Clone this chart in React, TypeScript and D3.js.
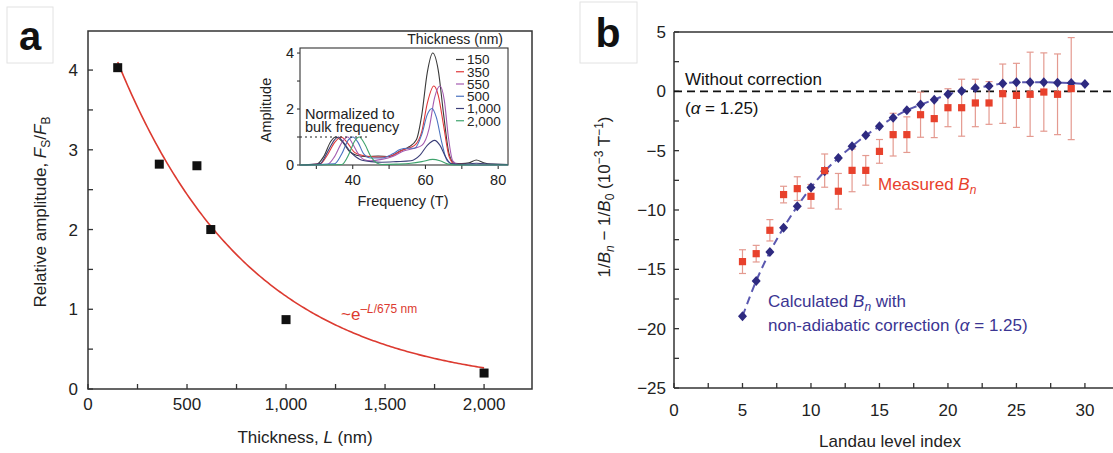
import React from "react";
import * as d3 from "d3";

// ---------- Panel a data ----------
const thickness = [150, 360, 550, 620, 1000, 2000];
const relAmp = [4.03, 2.82, 2.8, 2.0, 0.87, 0.2];
const fitAmp = 5.12;
const fitDecay = 675;
const fitRange = [150, 2000];
const aXTicks = [0, 250, 500, 750, 1000, 1250, 1500, 1750, 2000];
const aXLabels = [0, 500, 1000, 1500, 2000];
const aYTicks = [0, 0.5, 1, 1.5, 2, 2.5, 3, 3.5, 4];
const aYLabels = [0, 1, 2, 3, 4];

// ---------- Inset data (frequency T, amplitude) ----------
const insetLabels = ["150", "350", "550", "500", "1,000", "2,000"];
const insetColors = ["#3a3a3a", "#e0383a", "#a45bb0", "#4a72c0", "#3c3f78", "#3fa36d"];
const spec150 = [[25.5,0],[30,0.02],[32,0.3],[34,0.85],[35.3,1.0],[37,0.85],[39,0.5],[41,0.35],[44,0.3],[47,0.32],[50,0.3],[53,0.5],[55.5,0.65],[57.5,0.9],[59,1.8],[60.5,3.3],[62,4.0],[63.5,3.4],[65,1.8],[66.5,0.4],[68,0.06],[70,0.05],[72,0.08],[74,0.18],[76,0.08],[78,0.03],[82.7,0.02]];
const spec350 = [[25.5,0],[31,0.04],[33,0.35],[35,0.8],[36.8,1.0],[38.5,0.8],[40.5,0.45],[42.5,0.35],[45,0.3],[48,0.28],[51,0.35],[54,0.55],[57,0.7],[59,1.2],[60.5,2.2],[62.3,2.82],[63.5,2.5],[65,1.4],[66.5,0.3],[68,0.03],[72,0.02],[82.7,0]];
const spec550 = [[25.5,0],[33,0.02],[35,0.3],[37,0.8],[38.6,1.0],[40,0.75],[41.5,0.4],[43,0.2],[45,0.15],[48,0.2],[51,0.3],[54,0.5],[57,0.6],[59,0.7],[61,1.3],[62.5,2.4],[64,2.82],[65.2,2.3],[66.3,1.0],[67.5,0.15],[69,0.02],[82.7,0]];
const spec500 = [[25.5,0],[35,0.04],[37,0.4],[38.8,0.9],[40,1.0],[41.5,0.8],[43,0.4],[45,0.25],[48,0.25],[51,0.4],[53,0.55],[55,0.6],[57,0.6],[59,1.1],[60.5,1.8],[61.8,2.02],[63,1.7],[64.5,0.8],[66,0.15],[68,0.02],[82.7,0]];
const spec1000 = [[25.5,0],[31,0.05],[33,0.45],[35,0.9],[36,1.0],[37.5,0.8],[39.5,0.45],[42,0.2],[45,0.12],[48,0.1],[52,0.12],[56,0.15],[58.5,0.35],[60.5,0.7],[62.5,0.88],[64,0.7],[65.5,0.3],[67,0.05],[70,0.03],[74,0.06],[78,0.03],[82.7,0.02]];
const spec2000 = [[25.5,0],[37,0.02],[39,0.4],[40.5,0.85],[41.8,1.0],[43.3,0.75],[45,0.3],[46.5,0.08],[48,0.02],[52,0.03],[56,0.06],[59,0.12],[62,0.2],[64,0.15],[66,0.04],[68,0],[82.7,0]];
const insetSpectra = [spec150, spec350, spec550, spec500, spec1000, spec2000];
const insetXTicks = [30, 40, 50, 60, 70, 80];
const insetXLabels = [40, 60, 80];
const insetYTicks = [0, 1, 2, 3, 4];
const insetYLabels = [0, 2, 4];

// ---------- Panel b data ----------
const calcN = [5,6,7,8,9,10,11,12,13,14,15,16,17,18,19,20,21,22,23,24,25,26,27,28,29,30];
const calcB = [-18.96,-15.98,-13.54,-11.49,-9.69,-8.1,-6.74,-5.62,-4.63,-3.71,-2.95,-2.22,-1.6,-1.12,-0.7,-0.25,0.03,0.28,0.45,0.67,0.76,0.76,0.76,0.73,0.7,0.62];
const measN = [5,6,7,8,9,10,11,12,13,14,15,16,17,18,19,20,21,22,23,24,25,26,27,28,29];
const measB = [-14.35,-13.68,-11.71,-8.7,-8.2,-8.85,-6.68,-8.42,-6.66,-6.66,-5.06,-3.65,-3.65,-1.97,-2.3,-1.38,-1.38,-0.98,-0.98,-0.2,-0.34,-0.25,-0.06,-0.25,0.23];
const measErr = [1.0,0.7,0.9,0.7,1.0,1.0,1.4,1.5,1.8,1.25,1.0,1.8,1.5,1.9,1.6,1.6,2.4,2.0,1.8,2.5,2.7,3.55,3.3,3.4,4.3];
const bXTicks = [0,2.5,5,7.5,10,12.5,15,17.5,20,22.5,25,27.5,30];
const bXLabels = [0,5,10,15,20,25,30];
const bYTicks = [5,2.5,0,-2.5,-5,-7.5,-10,-12.5,-15,-17.5,-20,-22.5,-25];
const bYLabels = [5,0,-5,-10,-15,-20,-25];

const FONT = "'Liberation Sans', Arial, Helvetica, sans-serif";
const AX = "#333";
const RED = "#e8412c";
const NAVY = "#2e2a80";

function minus(v: number) {
  return v < 0 ? "\u2212" + Math.abs(v) : String(v);
}

export default function App() {
  // panel a scales
  const xA = d3.scaleLinear().domain([0, 2242]).range([88, 532]);
  const yA = d3.scaleLinear().domain([0, 4.49]).range([389, 31]);
  const fitL = d3.range(fitRange[0], fitRange[1] + 1, 10);
  const fitLine = d3
    .line<number>()
    .x((l) => xA(l))
    .y((l) => yA(fitAmp * Math.exp(-l / fitDecay)));
  const fmtA = d3.format(",");

  // inset scales
  const xI = d3.scaleLinear().domain([25.5, 82.7]).range([300, 508]);
  const yI = d3.scaleLinear().domain([0, 4.18]).range([165, 48]);
  const specLine = d3
    .line<number[]>()
    .x((p) => xI(p[0]))
    .y((p) => yI(p[1]))
    .curve(d3.curveMonotoneX);

  // panel b scales
  const xB = d3.scaleLinear().domain([0, 32.05]).range([674, 1113]);
  const yB = d3.scaleLinear().domain([-25, 5]).range([388, 32]);
  const calcLine = d3
    .line<number>()
    .x((_, i) => xB(calcN[i]))
    .y((v) => yB(v))
    .curve(d3.curveMonotoneX);

  const tickLen = 5;
  const legY = (i: number) => 59.5 + i * 12.25;

  return (
    <div style={{ position: "fixed", left: 0, top: 0 }}>
      <svg width={1113} height={453} style={{ display: "block", background: "#fff" }} fontFamily={FONT}>
        {/* ===================== Panel a ===================== */}
        <rect x={7} y={7} width={46} height={56} fill="#fff" stroke="#e2e2e2" />
        <text x={30} y={50} fontSize={40} fontWeight="bold" textAnchor="middle" fill="#111">a</text>

        <rect x={88} y={31} width={444} height={358} fill="none" stroke={AX} strokeWidth={1.5} />
        {aXTicks.map((t) => (
          <line key={"ax" + t} x1={xA(t)} x2={xA(t)} y1={389} y2={389 - tickLen} stroke={AX} strokeWidth={1.3} />
        ))}
        {aXLabels.map((t) => (
          <text key={"axl" + t} x={xA(t)} y={410} fontSize={17} textAnchor="middle" fill="#222">{fmtA(t)}</text>
        ))}
        {aYTicks.map((t) => (
          <line key={"ay" + t} x1={88} x2={88 + tickLen} y1={yA(t)} y2={yA(t)} stroke={AX} strokeWidth={1.3} />
        ))}
        {aYLabels.map((t) => (
          <text key={"ayl" + t} x={78} y={yA(t) + 6} fontSize={17} textAnchor="end" fill="#222">{t}</text>
        ))}
        <text x={305} y={443} fontSize={17} textAnchor="middle" fill="#222">
          Thickness, <tspan fontStyle="italic">L</tspan> (nm)
        </text>
        <text transform="translate(46,212) rotate(-90)" fontSize={17} textAnchor="middle" fill="#222">
          Relative amplitude, <tspan fontStyle="italic">F</tspan>
          <tspan fontSize={12} dy={4}>S</tspan>
          <tspan dy={-4}>/</tspan>
          <tspan fontStyle="italic">F</tspan>
          <tspan fontSize={12} dy={4}>B</tspan>
        </text>

        <path d={fitLine(fitL) || ""} fill="none" stroke="#dc3a30" strokeWidth={1.6} />
        {thickness.map((l, i) => (
          <rect key={"pa" + i} x={xA(l) - 4.5} y={yA(relAmp[i]) - 4.5} width={9} height={9} fill="#111" />
        ))}
        <text x={341} y={320} fontSize={17} fill="#dc3a30">
          ~e<tspan fontSize={12} dy={-7}>–<tspan fontStyle="italic">L</tspan>/675 nm</tspan>
        </text>

        {/* ---------- inset ---------- */}
        <rect x={300} y={48} width={208} height={117} fill="none" stroke={AX} strokeWidth={1.1} />
        {insetXTicks.map((t) => (
          <line key={"ix" + t} x1={xI(t)} x2={xI(t)} y1={165} y2={169} stroke={AX} strokeWidth={1.1} />
        ))}
        {insetXLabels.map((t) => (
          <text key={"ixl" + t} x={xI(t)} y={185} fontSize={14.5} textAnchor="middle" fill="#222">{t}</text>
        ))}
        {insetYTicks.map((t) => (
          <line key={"iy" + t} x1={300} x2={297} y1={yI(t)} y2={yI(t)} stroke={AX} strokeWidth={1.1} />
        ))}
        {insetYLabels.map((t) => (
          <text key={"iyl" + t} x={294} y={yI(t) + 5} fontSize={14.5} textAnchor="end" fill="#222">{t}</text>
        ))}
        <text transform="translate(271,110) rotate(-90)" fontSize={14.5} textAnchor="middle" fill="#222">Amplitude</text>
        <text x={403} y={206} fontSize={14.5} textAnchor="middle" fill="#222">Frequency (T)</text>
        {insetSpectra.map((s, i) => (
          <path key={"sp" + i} d={specLine(s) || ""} fill="none" stroke={insetColors[i]} strokeWidth={1.1} />
        ))}
        <line x1={300} x2={368} y1={yI(1)} y2={yI(1)} stroke="#222" strokeWidth={1.2} strokeDasharray="2,3" />
        <text x={305} y={119} fontSize={14.5} fill="#222">Normalized to</text>
        <text x={305} y={132} fontSize={14.5} fill="#222">bulk frequency</text>
        <text x={503} y={44} fontSize={14} textAnchor="end" fill="#222">Thickness (nm)</text>
        {insetLabels.map((lab, i) => (
          <g key={"lg" + i}>
            <line x1={456} x2={464} y1={legY(i)} y2={legY(i)} stroke={insetColors[i]} strokeWidth={1.2} />
            <text x={467} y={legY(i) + 4.8} fontSize={13.5} fill="#222">{lab}</text>
          </g>
        ))}

        {/* ===================== Panel b ===================== */}
        <rect x={580} y={2} width={57} height={61} fill="#fff" stroke="#e2e2e2" />
        <text x={608} y={47} fontSize={41} fontWeight="bold" textAnchor="middle" fill="#111">b</text>

        <line x1={674} x2={674} y1={32} y2={388} stroke={AX} strokeWidth={1.5} />
        <line x1={674} x2={1113} y1={32} y2={32} stroke={AX} strokeWidth={1.5} />
        <line x1={674} x2={1113} y1={388} y2={388} stroke={AX} strokeWidth={1.5} />
        {bXTicks.map((t) => (
          <line key={"bx" + t} x1={xB(t)} x2={xB(t)} y1={388} y2={388 - tickLen} stroke={AX} strokeWidth={1.3} />
        ))}
        {bXLabels.map((t) => (
          <text key={"bxl" + t} x={xB(t)} y={416} fontSize={17} textAnchor="middle" fill="#222">{t}</text>
        ))}
        {bYTicks.map((t) => (
          <line key={"by" + t} x1={674} x2={674 + tickLen} y1={yB(t)} y2={yB(t)} stroke={AX} strokeWidth={1.3} />
        ))}
        {bYLabels.map((t) => (
          <text key={"byl" + t} x={666} y={yB(t) + 6} fontSize={17} textAnchor="end" fill="#222">{minus(t)}</text>
        ))}
        <text x={890} y={447} fontSize={17} textAnchor="middle" fill="#222">Landau level index</text>
        <text transform="translate(610,197) rotate(-90)" fontSize={17} textAnchor="middle" fill="#222">
          1/<tspan fontStyle="italic">B</tspan>
          <tspan fontSize={12} dy={4} fontStyle="italic">n</tspan>
          <tspan dy={-4}> − 1/</tspan>
          <tspan fontStyle="italic">B</tspan>
          <tspan fontSize={12} dy={4}>0</tspan>
          <tspan dy={-4}> (10</tspan>
          <tspan fontSize={12} dy={-7}>−3</tspan>
          <tspan dy={7}> T</tspan>
          <tspan fontSize={12} dy={-7}>−1</tspan>
          <tspan dy={7}>)</tspan>
        </text>

        <line x1={674} x2={1113} y1={yB(0)} y2={yB(0)} stroke="#111" strokeWidth={1.6} strokeDasharray="8,5" />
        <text x={685} y={85} fontSize={17} fill="#111">Without correction</text>
        <text x={685} y={114} fontSize={17} fill="#111">
          (<tspan fontStyle="italic">α</tspan> = 1.25)
        </text>

        {/* error bars */}
        {measN.map((n, i) => {
          const x = xB(n);
          const y1 = yB(measB[i] + measErr[i]);
          const y2 = yB(measB[i] - measErr[i]);
          return (
            <g key={"eb" + i} stroke="#e49a90" strokeWidth={1.2}>
              <line x1={x} x2={x} y1={y1} y2={y2} />
              <line x1={x - 3.5} x2={x + 3.5} y1={y1} y2={y1} />
              <line x1={x - 3.5} x2={x + 3.5} y1={y2} y2={y2} />
            </g>
          );
        })}
        <path d={calcLine(calcB) || ""} fill="none" stroke="#5a58b0" strokeWidth={2} strokeDasharray="8,5" />
        {calcN.map((n, i) => {
          const x = xB(n);
          const y = yB(calcB[i]);
          return <path key={"dm" + i} d={`M${x},${y - 5}L${x + 4.5},${y}L${x},${y + 5}L${x - 4.5},${y}Z`} fill={NAVY} />;
        })}
        {measN.map((n, i) => (
          <rect key={"ms" + i} x={xB(n) - 3.6} y={yB(measB[i]) - 3.6} width={7.2} height={7.2} fill={RED} />
        ))}

        <text x={878} y={190} fontSize={17} fill={RED}>
          Measured <tspan fontStyle="italic">B</tspan>
          <tspan fontSize={12} dy={4} fontStyle="italic">n</tspan>
        </text>
        <text x={768} y={307} fontSize={17} fill="#3b3592">
          Calculated <tspan fontStyle="italic">B</tspan>
          <tspan fontSize={12} dy={4} fontStyle="italic">n</tspan>
          <tspan dy={-4}> with</tspan>
        </text>
        <text x={768} y={331} fontSize={17} fill="#3b3592">
          non-adiabatic correction (<tspan fontStyle="italic">α</tspan> = 1.25)
        </text>
      </svg>
    </div>
  );
}
